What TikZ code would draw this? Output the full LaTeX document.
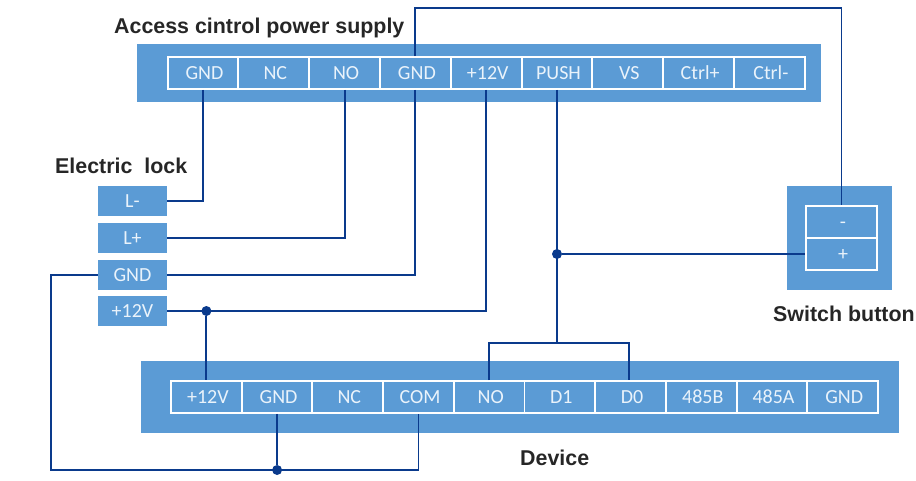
\documentclass[tikz,border=0pt]{standalone}
\usepackage{fontspec}
\setmainfont{Carlito}
\newfontfamily\labelfont{Liberation Sans}[Scale=1]
\definecolor{panelblue}{HTML}{5B9BD5}
\definecolor{wireblue}{HTML}{0A3A8C}
\definecolor{celltext}{HTML}{EAF3FB}
\definecolor{labeltext}{HTML}{262626}
\tikzset{
  panel/.style={fill=panelblue,draw=none,inner sep=0pt,anchor=north west},
  cell/.style={draw=white,line width=1.9pt,fill=panelblue,text=celltext,inner sep=0pt,minimum width=70.8pt,minimum height=32pt,text height=12.5pt,text depth=0pt,font=\fontsize{20}{22}\selectfont,execute at begin node=\hspace{3pt}},
  swcell/.style={cell,minimum width=71pt},
  lockcell/.style={fill=panelblue,text=celltext,inner sep=0pt,minimum width=69pt,minimum height=30pt,text height=12.5pt,text depth=0pt,font=\fontsize{20}{22}\selectfont},
  title/.style={text=labeltext,inner sep=0pt,font=\labelfont\bfseries\fontsize{21.4}{25}\selectfont},
  wire/.style={draw=wireblue,line width=1.9pt,line join=miter},
  junction/.style={circle,fill=wireblue,draw=none,inner sep=0pt,minimum size=10pt}
}
\begin{document}
\begin{tikzpicture}[x=1pt,y=-1pt]
\useasboundingbox (0,0) rectangle (916,480);
% panels
\node[panel,minimum width=684pt,minimum height=58pt] (toppanel) at (137,44) {};
\node[panel,minimum width=758pt,minimum height=72pt] (botpanel) at (141,361) {};
\node[panel,minimum width=105pt,minimum height=104pt] (swpanel) at (787,186) {};
% top terminals
\node[cell] (tgnda) at (203,73) {GND};
\node[cell] (tnc) at (273.8,73) {NC};
\node[cell] (tno) at (344.6,73) {NO};
\node[cell] (tgndb) at (415.4,73) {GND};
\node[cell] (tvcc) at (486.2,73) {+12V};
\node[cell] (tpush) at (557,73) {PUSH};
\node[cell] (tvs) at (627.8,73) {VS};
\node[cell] (tcp) at (698.6,73) {Ctrl+};
\node[cell] (tcm) at (769.4,73) {Ctrl-};
% bottom terminals
\node[cell] (bvcc) at (206.4,397) {+12V};
\node[cell] (bgnda) at (277.1,397) {GND};
\node[cell] (bnc) at (347.8,397) {NC};
\node[cell] (bcom) at (418.5,397) {COM};
\node[cell] (bno) at (489.2,397) {NO};
\node[cell] (bdone) at (559.9,397) {D1};
\node[cell] (bdzero) at (630.6,397) {D0};
\node[cell] (bb) at (701.3,397) {485B};
\node[cell] (ba) at (772,397) {485A};
\node[cell] (bgndb) at (842.7,397) {GND};
% switch
\node[swcell] (swm) at (841.5,222) {-};
\node[swcell] (swp) at (841.5,254) {+};
% lock
\node[lockcell] (ll) at (132.5,201) {L-};
\node[lockcell] (lp) at (132.5,238) {L+};
\node[lockcell] (lg) at (132.5,275) {GND};
\node[lockcell] (lv) at (132.5,311) {+12V};
% titles
\node[title,anchor=base west] (tacc) at (114,33) {Access cintrol power supply};
\node[title,anchor=base west] (tlock) at (55,173) {Electric\ \ lock};
\node[title,anchor=base west] (tsw) at (773,321) {Switch button};
\node[title,anchor=base west] (tdev) at (520,465) {Device};
% helpers
\coordinate (topturn) at (tgndb.north |- 0,8);
\coordinate (leftrail) at (51,275);
\coordinate (botrail) at (51,470);
\coordinate (bridge) at (tpush.south |- 0,343);
\node[junction] (jv) at (bvcc.north |- lv.east) {};
\node[junction] (jp) at (tpush.south |- swp.west) {};
\node[junction] (jg) at (bgnda.south |- botrail) {};
% wires
\draw[wire] (tgnda.south) |- (ll.east);
\draw[wire] (tno.south) |- (lp.east);
\draw[wire] (tgndb.south) |- (lg.east);
\draw[wire] (tvcc.south) |- (lv.east);
\draw[wire] (tgndb.north) -- (topturn) -| (swm.north);
\draw[wire] (jv) -- (bvcc.north);
\draw[wire] (tpush.south) -- (bridge);
\draw[wire] (jp) -- (swp.west);
\draw[wire] (bno.north) |- (bridge) -| ([xshift=-1.5pt]bdzero.north);
\draw[wire] (lg.west) -- (leftrail) -- (botrail) -| (bcom.south);
\draw[wire] (bgnda.south) -- (jg);
\end{tikzpicture}
\end{document}
